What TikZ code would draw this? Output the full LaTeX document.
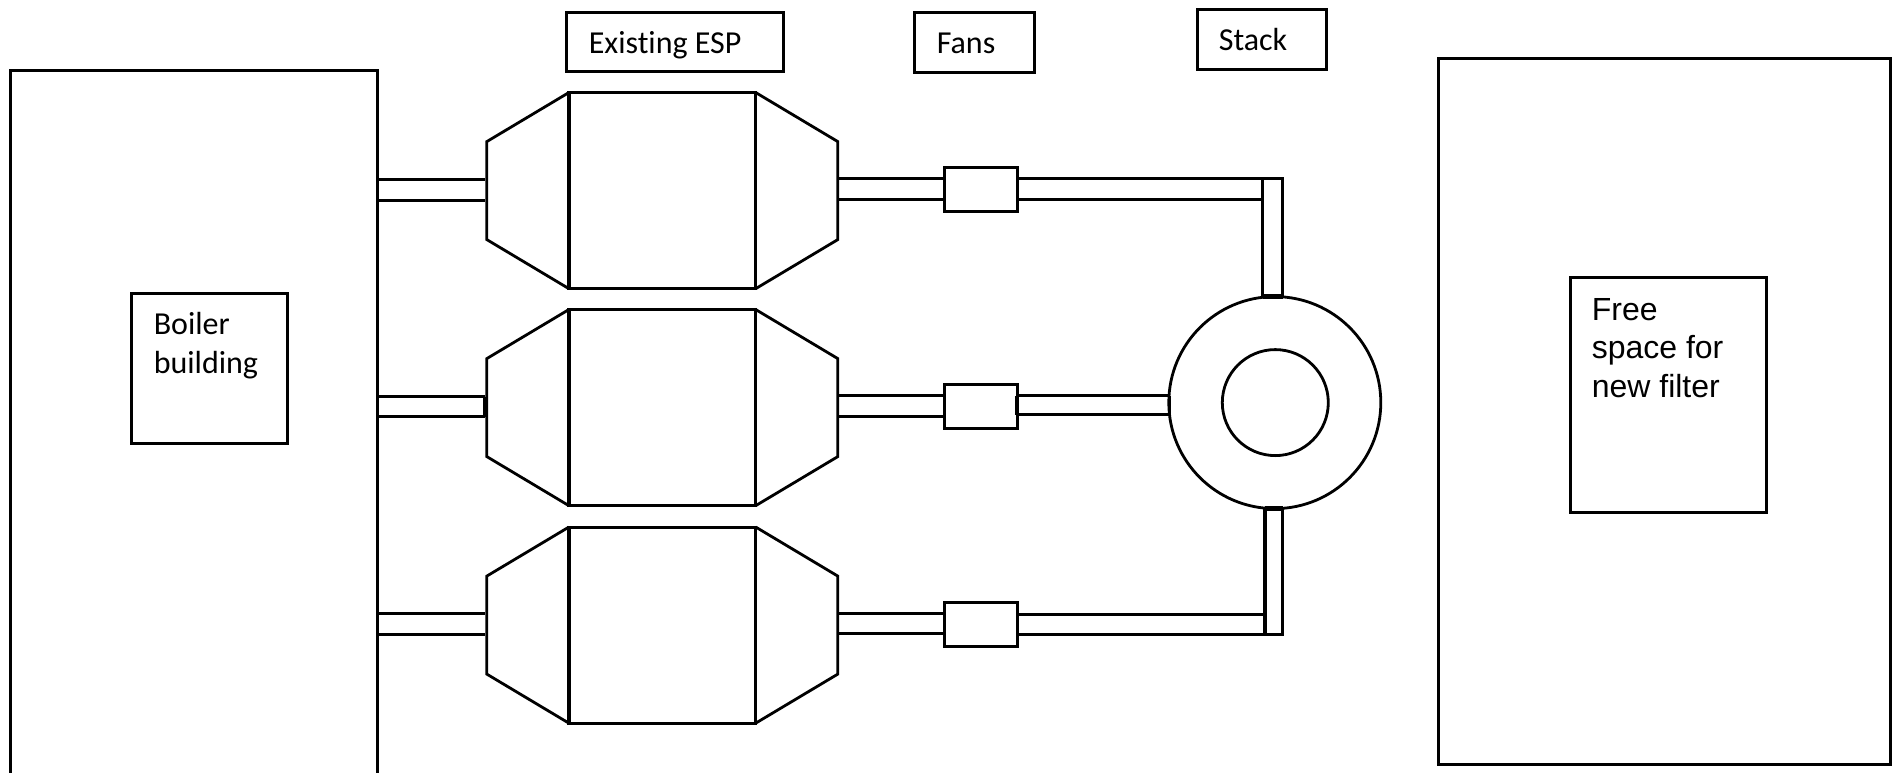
\documentclass[tikz,border=0pt]{standalone}
\usepackage{fontspec}
\setmainfont[Ligatures=NoCommon]{Carlito}
\newfontfamily\arialfont{Liberation Sans}
\tikzset{
  x=1pt,y=-1pt,
  ln/.style={draw=black,line width=2.8pt,line join=miter,line cap=butt},
  thk/.style={draw=black,line width=4.4pt},
  boxn/.style={ln,rectangle,anchor=north west,inner sep=0pt,outer sep=0pt},
  lab/.style={anchor=base west,inner sep=0pt,outer sep=0pt,font=\fontsize{32}{39}\selectfont},
  labf/.style={anchor=base west,inner sep=0pt,outer sep=0pt,font=\arialfont\fontsize{32}{38}\selectfont},
}
\newcommand{\rbox}[6][]{\node[boxn,minimum width=#5pt-#3pt,minimum height=#6pt-#4pt,#1] (#2) at (#3,#4) {};}
\begin{document}
\begin{tikzpicture}
\useasboundingbox (0.2,-0.6) rectangle (1896.2,772.4);
% building outlines
\coordinate (bA) at (11,772.4); \coordinate (bB) at (11,70); \coordinate (bC) at (378,70); \coordinate (bD) at (378,772.4);
\draw[ln] (bA) -- (bB) -- (bC) -- (bD);
\rbox{free}{1439}{58}{1891}{764}
% label boxes
\rbox{espb}{567}{12}{784}{71}
\node[lab] (esplab) at (589,53) {Existing ESP};
\rbox{fanb}{915}{12}{1035}{72}
\node[lab] (fanlab) at (937,53) {Fans};
\rbox{stackb}{1198}{9}{1327}{69}
\node[lab] (stacklab) at (1219,50) {Stack};
\rbox{boilb}{132}{293}{288}{443}
\node[lab] (boillab1) at (154,334) {Boiler};
\node[lab] (boillab2) at (154,373) {building};
\rbox{freeb}{1571}{277}{1767}{512}
\node[labf] (freelab1) at (1592,320) {Free};
\node[labf] (freelab2) at (1592,358) {space for};
\node[labf] (freelab3) at (1592,397) {new filter};
% ESPs
\foreach \i/\dy in {1/0,2/217,3/434.5}{
  \begin{scope}[yshift=-\dy pt]
    \rbox{esp\i}{569}{92}{756}{288}
    \coordinate (hl\i a) at (487,141); \coordinate (hl\i b) at (487,239);
    \coordinate (hr\i a) at (838,141); \coordinate (hr\i b) at (838,239);
    \draw[ln] (esp\i.north west) -- (hl\i a) -- (hl\i b) -- (esp\i.south west);
    \draw[ln] (esp\i.north east) -- (hr\i a) -- (hr\i b) -- (esp\i.south east);
    \draw[thk] (esp\i.north west) -- (esp\i.south west);
  \end{scope}
}
% fans
\rbox{fan1}{945}{167}{1018}{211}
\rbox{fan2}{945}{384}{1018}{428}
\rbox{fan3}{945}{602}{1018}{646}
% stack
\node[ln,circle,minimum size=212pt,inner sep=0pt,outer sep=0pt] (stack) at (1275,402) {};
\node[ln,circle,minimum size=106pt,inner sep=0pt,outer sep=0pt] (flue) at (1275.5,402) {};
% inlet ducts
\coordinate (i1a) at (378,179); \coordinate (i1b) at (485,179); \coordinate (i1c) at (378,200); \coordinate (i1d) at (485,200);
\coordinate (i2a) at (378,396); \coordinate (i2b) at (485,396); \coordinate (i2c) at (378,416); \coordinate (i2d) at (485,416);
\coordinate (i3a) at (378,613); \coordinate (i3b) at (485,613); \coordinate (i3c) at (378,634); \coordinate (i3d) at (485,634);
\foreach \i in {1,2,3}{ \draw[ln] (i\i a) -- (i\i b); \draw[ln] (i\i c) -- (i\i d); }
\draw[thk] (i2b) -- (i2d);
% ESP to fan ducts
\coordinate (m1a) at (838,178); \coordinate (m1b) at (838,199);
\coordinate (m2a) at (838,395); \coordinate (m2b) at (838,416);
\coordinate (m3a) at (838,613); \coordinate (m3b) at (838,633);
\foreach \i in {1,2,3}{
  \draw[ln] (m\i a) -- (m\i a -| fan\i.west);
  \draw[ln] (m\i b) -- (m\i b -| fan\i.west);
}
% fan 2 to stack
\coordinate (o2a) at (1017,395); \coordinate (o2b) at (1017,414);
\coordinate (o2c) at (1170,395); \coordinate (o2d) at (1170,414);
\draw[ln] (o2a) -- (o2c); \draw[ln] (o2b) -- (o2d); \draw[ln] (o2a) -- (o2b); \draw[ln] (o2c) -- (o2d);
% top riser and duct
\coordinate (r1a) at (1263,296); \coordinate (r1b) at (1263,178); \coordinate (r1c) at (1283,178); \coordinate (r1d) at (1283,296);
\draw[ln] (r1a) -- (r1b) -- (r1c) -- (r1d);
\draw[thk] (r1a) -- (r1d);
\draw[ln] (fan1.east |- r1b) -- (r1b);
\coordinate (r1e) at (1263,199);
\draw[ln] (fan1.east |- r1e) -- (r1e);
% bottom riser and duct
\coordinate (r3a) at (1265,508); \coordinate (r3b) at (1265,634); \coordinate (r3c) at (1283,634); \coordinate (r3d) at (1283,508);
\draw[thk] (r3a) -- (r3b);
\draw[ln] (r3b) -- (r3c) -- (r3d);
\draw[thk] (r3a) -- (r3d);
\coordinate (r3e) at (1265,614);
\draw[ln] (fan3.east |- r3e) -- (r3e);
\draw[ln] (fan3.east |- r3b) -- (r3b);
\end{tikzpicture}
\end{document}
